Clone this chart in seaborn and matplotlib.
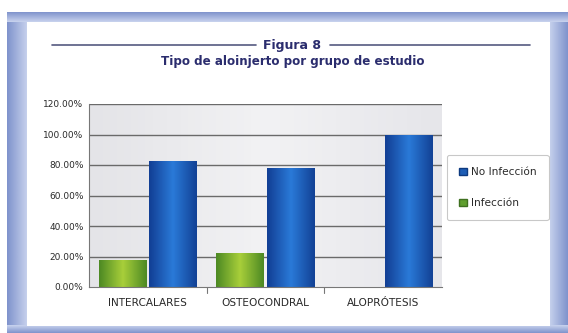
import numpy as np
import pandas as pd
import matplotlib
matplotlib.use("Agg")
import matplotlib.pyplot as plt
import seaborn as sns
from matplotlib.patches import Rectangle
from matplotlib.colors import LinearSegmentedColormap

categories = ["INTERCALARES", "OSTEOCONDRAL", "ALOPRÓTESIS"]
no_infeccion = [82.4, 77.8, 100.0]
infeccion = [17.6, 22.2, 0.0]
series_names = ["Infección", "No Infección"]
yticks = [0, 20, 40, 60, 80, 100, 120]
ytick_labels = ["0.00%", "20.00%", "40.00%", "60.00%", "80.00%", "100.00%", "120.00%"]

df = pd.DataFrame({
    "cat": categories * 2,
    "serie": [series_names[0]] * 3 + [series_names[1]] * 3,
    "val": infeccion + no_infeccion,
})

sns.set_theme(style="white")
plt.rcParams['font.family'] = ['DejaVu Sans']

W, H = 568, 333
fig = plt.figure(figsize=(W / 100, H / 100), dpi=100)
fig.patch.set_facecolor("white")

def fx(x): return x / W
def fy(y): return 1 - y / H

# blue gradient frame
frame_ax = fig.add_axes([0, 0, 1, 1], zorder=-10)
frame_ax.set_xlim(0, W); frame_ax.set_ylim(H, 0); frame_ax.axis("off")
blue_cmap = LinearSegmentedColormap.from_list("b", ["#7f93cc", "#c9d3ee"])
frame_ax.add_patch(Rectangle((7, 12), 561, 321, facecolor="#a9b7e0", edgecolor="none"))
grad = np.linspace(0, 1, 50).reshape(1, -1)
frame_ax.imshow(grad, extent=(7, 28, 333, 12), cmap=blue_cmap, aspect="auto", zorder=1)
frame_ax.imshow(grad[:, ::-1], extent=(549, 568, 333, 12), cmap=blue_cmap, aspect="auto", zorder=1)
frame_ax.imshow(grad.T, extent=(7, 568, 22, 12), cmap=blue_cmap, aspect="auto", zorder=1)
frame_ax.imshow(grad.T[::-1], extent=(7, 568, 333, 325), cmap=blue_cmap, aspect="auto", zorder=1)
frame_ax.add_patch(Rectangle((27, 22), 523, 304, facecolor="white", edgecolor="none", zorder=2))

# title
title_color = "#2b2d6e"
frame_ax.text(292, 45, "Figura 8", ha="center", va="center", fontsize=9,
              fontweight="bold", color=title_color, zorder=3)
frame_ax.text(293, 62, "Tipo de aloinjerto por grupo de estudio", ha="center", va="center",
              fontsize=8.6, fontweight="bold", color=title_color, zorder=3)
frame_ax.plot([52, 256], [45, 45], color="#555a80", lw=1.2, zorder=3)
frame_ax.plot([330, 530], [45, 45], color="#555a80", lw=1.2, zorder=3)

# plot area
ax = fig.add_axes([fx(89), fy(287), fx(442 - 89), (287 - 104) / H], zorder=1)
ax.set_facecolor("#e6e6ea")
bg = np.linspace(0, 1, 50).reshape(1, -1)
ax.imshow(np.vstack([bg, bg]), extent=(-0.5, 2.5, 0, 120), aspect="auto",
          cmap=LinearSegmentedColormap.from_list("g", ["#e4e4e8", "#f2f2f4", "#e6e6ea"]), zorder=0)

sns.barplot(data=df, x="cat", y="val", hue="serie", hue_order=series_names,
            palette=["#5f9e2e", "#1d5db5"], width=0.86, gap=0.06, ax=ax, legend=False,
            zorder=3, saturation=1)

ax.set_xlim(-0.5, 2.5)
ax.set_ylim(0, 120)
ax.set_yticks(yticks)
ax.set_yticklabels(ytick_labels)
ax.set_xlabel(""); ax.set_ylabel("")
for y in yticks[1:]:
    ax.axhline(y, color="#6a6a6a", lw=1.0, zorder=2)

# gradient fill for bars
green_cmap = LinearSegmentedColormap.from_list("gr", ["#4e8a24", "#a8cf3a", "#4e8a24"])
blue_bar_cmap = LinearSegmentedColormap.from_list("bl", ["#123f95", "#2a7ad8", "#134296"])
for p in ax.patches:
    h = p.get_height()
    if h <= 0:
        continue
    x0 = p.get_x(); w = p.get_width()
    fc = p.get_facecolor()
    cm = green_cmap if fc[1] > fc[2] else blue_bar_cmap
    im = ax.imshow(grad, extent=(x0, x0 + w, 0, h), aspect="auto", cmap=cm, zorder=4)
    im.set_clip_path(p)
    p.set_edgecolor("none")

for s in ["top", "right"]:
    ax.spines[s].set_visible(False)
for s in ["left", "bottom"]:
    ax.spines[s].set_color("#777777")
    ax.spines[s].set_linewidth(0.8)
    ax.spines[s].set_zorder(5)
ax.tick_params(axis="y", length=3, width=0.8, color="#777777", labelsize=6.5, pad=1)
ax.tick_params(axis="x", length=0, labelsize=7.6, pad=8)
for t in ax.get_yticklabels() + ax.get_xticklabels():
    t.set_color("#2a2a2a")
for xs in [0.5, 1.5]:
    ax.plot([xs, xs], [0, -4], color="#777777", lw=0.8, clip_on=False, zorder=5)

# legend
handles = [Rectangle((0, 0), 1, 1, facecolor="#1d5db5", edgecolor="#0e3a80"),
           Rectangle((0, 0), 1, 1, facecolor="#5f9e2e", edgecolor="#3f7020")]
leg = fig.legend(handles, ["No Infección", "Infección"], loc="upper left",
                 bbox_to_anchor=(fx(447), fy(155)), fontsize=7.6, frameon=True,
                 handlelength=0.75, handleheight=0.75, handletextpad=0.35,
                 labelspacing=2.0, borderpad=1.15, borderaxespad=0, fancybox=True)
leg.get_frame().set_edgecolor("#bbbbbb")
leg.get_frame().set_linewidth(0.8)
for t in leg.get_texts():
    t.set_color("#2a2a2a")

fig.savefig("out.png", dpi=100)
